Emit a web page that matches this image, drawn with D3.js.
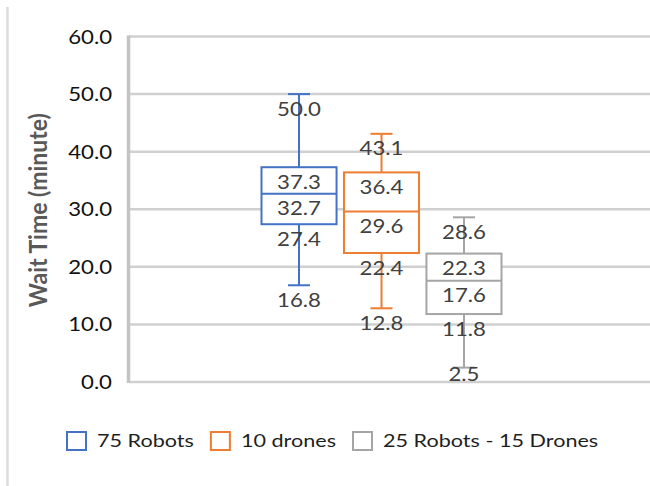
<!DOCTYPE html>
<html>
<head>
<meta charset="utf-8">
<script src="https://cdn.jsdelivr.net/npm/d3@7"></script>
<style>
  html, body { margin: 0; padding: 0; background: #fff; }
  svg { display: block; font-family: Lato, "Open Sans", sans-serif; }
</style>
</head>
<body>
<div id="chart"></div>
<script>
const series = ['75 Robots', '10 drones', '25 Robots - 15 Drones']
const colors = ['#4472C4', '#ED7D31', '#A5A5A5']
const whiskerMax = [50.0, 43.1, 28.6]
const q3 = [37.3, 36.4, 22.3]
const median = [32.7, 29.6, 17.6]
const q1 = [27.4, 22.4, 11.8]
const whiskerMin = [16.8, 12.8, 2.5]
const yTicks = [0, 10, 20, 30, 40, 50, 60]
const yTitle = 'Wait Time (minute)'

const W = 650, H = 486
const SX = 1.2 // the source picture is stretched sideways

const svg = d3.select('#chart')
  .append('svg')
  .attr('width', W)
  .attr('height', H)

const y = d3.scaleLinear()
  .domain([0, 60])
  .range([382, 36.5])

const x = d3.scaleBand()
  .domain(series)
  .range([261.5, 501.5])
  .paddingInner(0.09)

const color = d3.scaleOrdinal().domain(series).range(colors)

const boxes = series.map((s, i) => ({
  name: s, max: whiskerMax[i], q3: q3[i], med: median[i], q1: q1[i], min: whiskerMin[i]
}))

// text that is stretched horizontally like the picture
const stretched = (sel, tx, ty) =>
  sel.attr('transform', (d, i) => 'translate(' + tx(d, i) + ',' + ty(d, i) + ') scale(' + SX + ',1)')

// frame edge on the left
svg.append('line')
  .attr('x1', 7.5).attr('x2', 7.5)
  .attr('y1', 7).attr('y2', H)
  .attr('stroke', '#dcdcdc')
  .attr('stroke-width', 2.5)

// gridlines
svg.append('g')
  .selectAll('line')
  .data(yTicks)
  .enter()
  .append('line')
    .attr('x1', 129).attr('x2', W)
    .attr('y1', d => y(d)).attr('y2', d => y(d))
    .attr('stroke', '#d0d0d0')
    .attr('stroke-width', 2.5)

// vertical axis line
svg.append('line')
  .attr('x1', 128.5).attr('x2', 128.5)
  .attr('y1', y(60) - 1).attr('y2', y(0) + 1)
  .attr('stroke', '#c4c4c4')
  .attr('stroke-width', 3.5)

// tick labels
svg.append('g')
  .selectAll('text')
  .data(yTicks)
  .enter()
  .append('text')
    .call(stretched, () => 112, d => y(d) + 7)
    .attr('text-anchor', 'end')
    .attr('font-size', 18.5)
    .attr('fill', '#111')
    .text(d => d3.format('.1f')(d))

// axis title
svg.append('text')
  .attr('transform', 'translate(47,' + (y(30) + 1) + ') rotate(-90) scale(1,1.1)')
  .attr('text-anchor', 'middle')
  .attr('font-size', 23)
  .attr('font-weight', 'bold')
  .attr('fill', '#595959')
  .text(yTitle)

// boxes
const capW = 22
const g = svg.append('g')
  .selectAll('g')
  .data(boxes)
  .enter()
  .append('g')
    .attr('stroke', d => color(d.name))
    .attr('stroke-width', 2)
    .attr('fill', 'none')

g.append('line')
  .attr('x1', d => x(d.name) + x.bandwidth() / 2)
  .attr('x2', d => x(d.name) + x.bandwidth() / 2)
  .attr('y1', d => y(d.max)).attr('y2', d => y(d.q3))
g.append('line')
  .attr('x1', d => x(d.name) + x.bandwidth() / 2)
  .attr('x2', d => x(d.name) + x.bandwidth() / 2)
  .attr('y1', d => y(d.q1)).attr('y2', d => y(d.min))
g.append('line')
  .attr('x1', d => x(d.name) + x.bandwidth() / 2 - capW / 2)
  .attr('x2', d => x(d.name) + x.bandwidth() / 2 + capW / 2)
  .attr('y1', d => y(d.max)).attr('y2', d => y(d.max))
g.append('line')
  .attr('x1', d => x(d.name) + x.bandwidth() / 2 - capW / 2)
  .attr('x2', d => x(d.name) + x.bandwidth() / 2 + capW / 2)
  .attr('y1', d => y(d.min)).attr('y2', d => y(d.min))
g.append('rect')
  .attr('x', d => x(d.name))
  .attr('width', x.bandwidth())
  .attr('y', d => y(d.q3))
  .attr('height', d => y(d.q1) - y(d.q3))
  .attr('fill', '#fff')
g.append('line')
  .attr('x1', d => x(d.name)).attr('x2', d => x(d.name) + x.bandwidth())
  .attr('y1', d => y(d.med)).attr('y2', d => y(d.med))

// data labels
const labels = boxes.flatMap(b => ['max', 'q3', 'med', 'q1', 'min'].map(k => ({ name: b.name, v: b[k] })))

svg.append('g')
  .selectAll('text')
  .data(labels)
  .enter()
  .append('text')
    .call(stretched, d => x(d.name) + x.bandwidth() / 2, d => Math.min(y(d.v) + 21.5, y(0) - 1.5))
    .attr('text-anchor', 'middle')
    .attr('font-size', 18.5)
    .attr('fill', '#404040')
    .text(d => d3.format('.1f')(d.v))

// legend
const legend = svg.append('g').attr('id', 'legend')
let lx = 67
series.forEach(s => {
  legend.append('rect')
    .attr('x', lx).attr('y', 432)
    .attr('width', 19).attr('height', 18)
    .attr('fill', '#fff')
    .attr('stroke', color(s))
    .attr('stroke-width', 2)
  const t = legend.append('text')
    .attr('transform', 'translate(' + (lx + 30) + ',446.5) scale(' + SX + ',1)')
    .attr('font-size', 18)
    .attr('fill', '#1f1f1f')
    .text(s)
  lx += 30 + t.node().getComputedTextLength() * SX + 17
})
</script>
</body>
</html>
